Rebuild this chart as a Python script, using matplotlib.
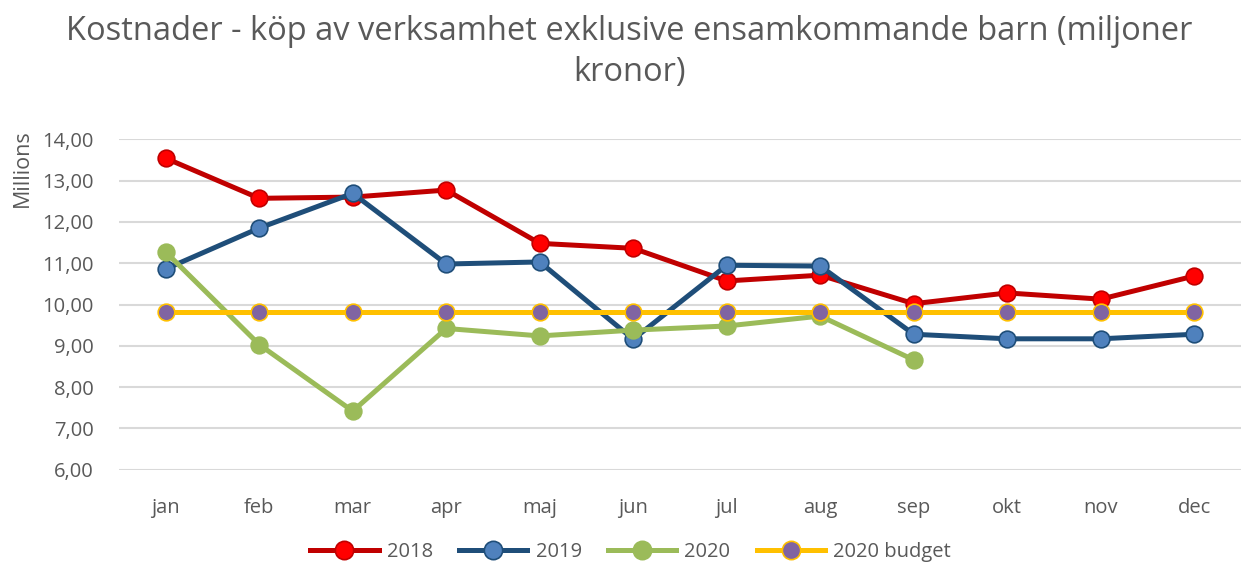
import numpy as np
import matplotlib.pyplot as plt

months = ["jan", "feb", "mar", "apr", "maj", "jun", "jul", "aug", "sep", "okt", "nov", "dec"]
y2018 = [13.54, 12.57, 12.60, 12.77, 11.48, 11.36, 10.57, 10.71, 10.02, 10.28, 10.13, 10.69]
y2019 = [10.86, 11.85, 12.69, 10.98, 11.03, 9.16, 10.95, 10.93, 9.28, 9.17, 9.17, 9.28]
y2020 = [11.27, 9.03, 7.42, 9.42, 9.24, 9.38, 9.48, 9.72, 8.66]
budget = [9.82] * 12
yticks = [6, 7, 8, 9, 10, 11, 12, 13, 14]

plt.rcParams['font.family'] = ['Open Sans', 'DejaVu Sans']
grey = '#595959'

fig = plt.figure(figsize=(12.46, 5.66), dpi=100)
ax = fig.add_axes([0.0955, 0.170, 0.9005, 0.584])

x = np.arange(len(months))
ax.plot(x, y2018, '-o', color='#C00000', lw=3.6, ms=12, mfc='#FF0000', mec='#C00000', mew=1.2, label='2018')
ax.plot(x, y2019, '-o', color='#1F4E79', lw=3.6, ms=12, mfc='#4F81BD', mec='#1F4E79', mew=1.2, label='2019')
ax.plot(x[:len(y2020)], y2020, '-o', color='#9BBB59', lw=3.6, ms=12, mfc='#9BBB59', mec='#9BBB59', mew=1.2, label='2020')
ax.plot(x, budget, '-o', color='#FFC000', lw=3.6, ms=12, mfc='#8064A2', mec='#FFC000', mew=1.2, label='2020 budget')

ax.set_xlim(-0.5, 11.5)
ax.set_ylim(6, 14)
ax.set_xticks(x)
ax.set_xticklabels(months)
ax.set_yticks(yticks)
ax.set_yticklabels([f"{v:.2f}".replace('.', ',') for v in yticks])
ax.tick_params(length=0, labelsize=14.5, colors=grey)
ax.tick_params(axis='y', pad=18)
ax.tick_params(axis='x', pad=20)
ax.grid(axis='y', color='#D9D9D9', lw=1.5)
ax.set_axisbelow(True)
for s in ax.spines.values():
    s.set_visible(False)

fig.text(0.505, 0.908, "Kostnader - köp av verksamhet exklusive ensamkommande barn (miljoner\nkronor)",
         ha='center', va='center', fontsize=23.5, color=grey, linespacing=1.3)
fig.text(0.018, 0.703, "Millions", rotation=90, ha='center', va='center', fontsize=15.5, color=grey)

leg = fig.legend(loc='center', bbox_to_anchor=(0.506, 0.025), ncol=4, frameon=False,
                 fontsize=14.5, handlelength=3.4, columnspacing=1.3, handletextpad=0.4,
                 markerscale=1.1)
for t in leg.get_texts():
    t.set_color(grey)

plt.savefig('out.png', dpi=100)
